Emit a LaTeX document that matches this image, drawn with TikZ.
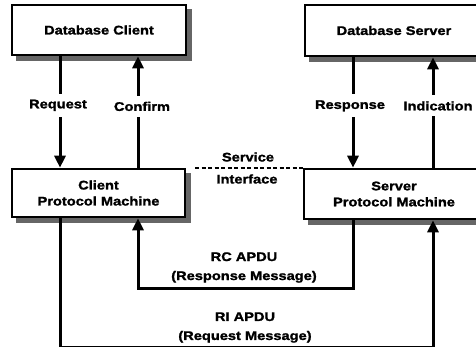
\documentclass[tikz,border=0pt]{standalone}
\usepackage{fontspec}
\setmainfont{Liberation Sans}[FakeStretch=1.17, BoldFeatures={FakeBold=1.6}]
\usetikzlibrary{arrows.meta}
\definecolor{shadowgray}{gray}{0.4}
\begin{document}
\begin{tikzpicture}[x=1pt,y=-1pt,
  txt/.style={font=\fontsize{12.5}{16}\selectfont\bfseries, align=center},
  box/.style={txt, draw=black, line width=2.6pt, fill=white, inner sep=0pt},
  boxshadow/.style={fill=shadowgray, draw=none},
  conn/.style={line width=3pt, -{Triangle[length=12pt,width=11pt]}},
  lbl/.style={txt, fill=white, inner xsep=2pt, inner ysep=6pt},
  msg/.style={txt, font=\fontsize{12.5}{19}\selectfont\bfseries, inner sep=0pt},
  sidash/.style={line width=1.3pt, dash pattern=on 4pt off 2.5pt}]
\useasboundingbox (0,0) rectangle (476,347);
\clip (0,0) rectangle (476,347);
% boxes
\node[box, minimum width=174pt, minimum height=50pt] (dbc) at (99,30) {Database Client};
\node[box, minimum width=178pt, minimum height=51pt] (dbs) at (394,30.5) {Database Server};
\node[box, minimum width=173pt, minimum height=48pt] (cpm) at (98.5,193) {Client\\Protocol Machine};
\node[box, minimum width=180pt, minimum height=50pt] (spm) at (394,194) {Server\\Protocol Machine};
% shadows (anchors lie on the outer edge of the border)
\path[boxshadow] ([xshift=-0.3pt,yshift=-5pt]dbc.north east) rectangle ([xshift=4.5pt,yshift=-4.5pt]dbc.south east);
\path[boxshadow] ([xshift=5pt,yshift=0.3pt]dbc.south west) rectangle ([xshift=4.5pt,yshift=-4.5pt]dbc.south east);
\path[boxshadow] ([xshift=5pt,yshift=0.3pt]dbs.south west) rectangle ([xshift=4.5pt,yshift=-4.5pt]dbs.south east);
\path[boxshadow] ([xshift=-0.3pt,yshift=-5pt]cpm.north east) rectangle ([xshift=4.5pt,yshift=-4.5pt]cpm.south east);
\path[boxshadow] ([xshift=5pt,yshift=0.3pt]cpm.south west) rectangle ([xshift=4.5pt,yshift=-4.5pt]cpm.south east);
\path[boxshadow] ([xshift=5pt,yshift=0.3pt]spm.south west) rectangle ([xshift=4.5pt,yshift=-4.5pt]spm.south east);
% columns and rows
\coordinate (xreq) at (60,0);
\coordinate (xconf) at (138,0);
\coordinate (xres) at (353,0);
\coordinate (xind) at (433,0);
\coordinate (rcy) at (0,288);
\coordinate (riy) at (0,347.5);
\coordinate (sil) at (195,168);
% service primitives
\draw[conn] (dbc.south -| xreq) -- node[lbl, pos=0.44, xshift=-2pt] {Request} (cpm.north -| xreq);
\draw[conn] (cpm.north -| xconf) -- node[lbl, pos=0.55, xshift=4pt] {Confirm} (dbc.south -| xconf);
\draw[conn] (dbs.south -| xres) -- node[lbl, pos=0.44, xshift=-3pt] {Response} (spm.north -| xres);
\draw[conn] (spm.north -| xind) -- node[lbl, pos=0.56, xshift=5pt] {Indication} (dbs.south -| xind);
% service interface
\draw[sidash] (sil) -- (spm.west |- sil);
\node[txt, inner sep=0pt] (sv) at (248,157) {Service};
\node[txt, inner sep=0pt] (si) at (247,179) {Interface};
% APDUs
\draw[conn] (spm.south -| xres) -- (xres |- rcy) -- (xconf |- rcy) -- (cpm.south -| xconf);
\node[msg] (rc) at (244,267.5) {RC APDU\\(Response Message)};
\draw[conn] (cpm.south -| xreq) -- (xreq |- riy) -- (xind |- riy) -- (spm.south -| xind);
\node[msg] (ri) at (245,327.5) {RI APDU\\(Request Message)};
\end{tikzpicture}
\end{document}
